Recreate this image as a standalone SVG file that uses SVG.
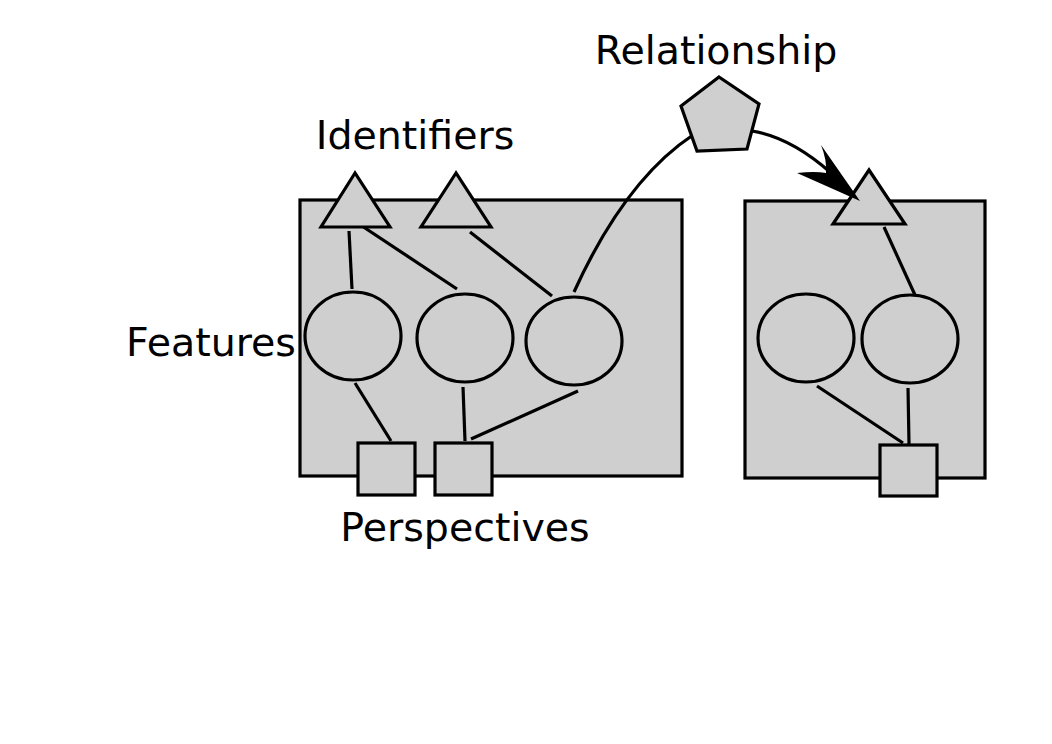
<svg xmlns="http://www.w3.org/2000/svg" width="1052" height="744" viewBox="0 0 1052 744">
<style>
.shape{fill:#cfcfcf;stroke:#000;stroke-width:3.2}
.ln{fill:none;stroke:#000;stroke-width:3.2}
.lbl{font-family:"DejaVu Sans",sans-serif;font-size:39.5px;fill:#000;text-anchor:middle}
</style>
<rect width="1052" height="744" fill="#fff"/>
<g id="entity-left"><rect class="shape" x="300" y="200" width="382" height="276"/></g>
<g id="entity-right"><rect class="shape" x="745" y="201" width="240" height="277"/></g>
<g id="connectors">
<line class="ln" x1="349" y1="231" x2="352" y2="289"/>
<line class="ln" x1="362" y1="226" x2="457" y2="289"/>
<line class="ln" x1="470" y1="232" x2="552" y2="296"/>
<line class="ln" x1="355" y1="383" x2="391" y2="441"/>
<line class="ln" x1="463" y1="387" x2="465" y2="441"/>
<line class="ln" x1="578" y1="391" x2="471" y2="439"/>
<line class="ln" x1="884" y1="227" x2="915" y2="295"/>
<line class="ln" x1="817" y1="386" x2="903" y2="443"/>
<line class="ln" x1="908" y1="388" x2="909" y2="444"/>
<path class="ln" d="M574,292 Q625,180 693,135"/>
<path class="ln" d="M752,131 Q790,137 830,172"/>
</g>
<g id="identifier-1"><polygon class="shape" points="355,173 321,227 390,227"/></g>
<g id="identifier-2"><polygon class="shape" points="456,173 421,227 491,227"/></g>
<g id="identifier-3"><polygon class="shape" points="869,170 833,224 905,224"/></g>
<g id="arrowhead"><path d="M860,201 L797,173 Q815,171 826,173 Q827,160 821,145 Z" fill="#000"/></g>
<g id="feature-1"><ellipse class="shape" cx="353" cy="336" rx="48" ry="44"/></g>
<g id="feature-2"><ellipse class="shape" cx="465" cy="338" rx="48" ry="44"/></g>
<g id="feature-3"><ellipse class="shape" cx="574" cy="341" rx="48" ry="44"/></g>
<g id="feature-4"><ellipse class="shape" cx="806" cy="338" rx="48" ry="44"/></g>
<g id="feature-5"><ellipse class="shape" cx="910" cy="339" rx="48" ry="44"/></g>
<g id="perspective-1"><rect class="shape" x="358" y="443" width="57" height="52"/></g>
<g id="perspective-2"><rect class="shape" x="435" y="443" width="57" height="52"/></g>
<g id="perspective-3"><rect class="shape" x="880" y="445" width="57" height="51"/></g>
<g id="relationship"><polygon class="shape" points="719,77 759,104 747,149 697,151 681,106"/></g>
<g id="labels">
<text class="lbl" x="716" y="64">Relationship</text>
<text class="lbl" x="415" y="149">Identifiers</text>
<text class="lbl" x="211" y="356">Features</text>
<text class="lbl" x="465" y="541">Perspectives</text>
</g>
</svg>
